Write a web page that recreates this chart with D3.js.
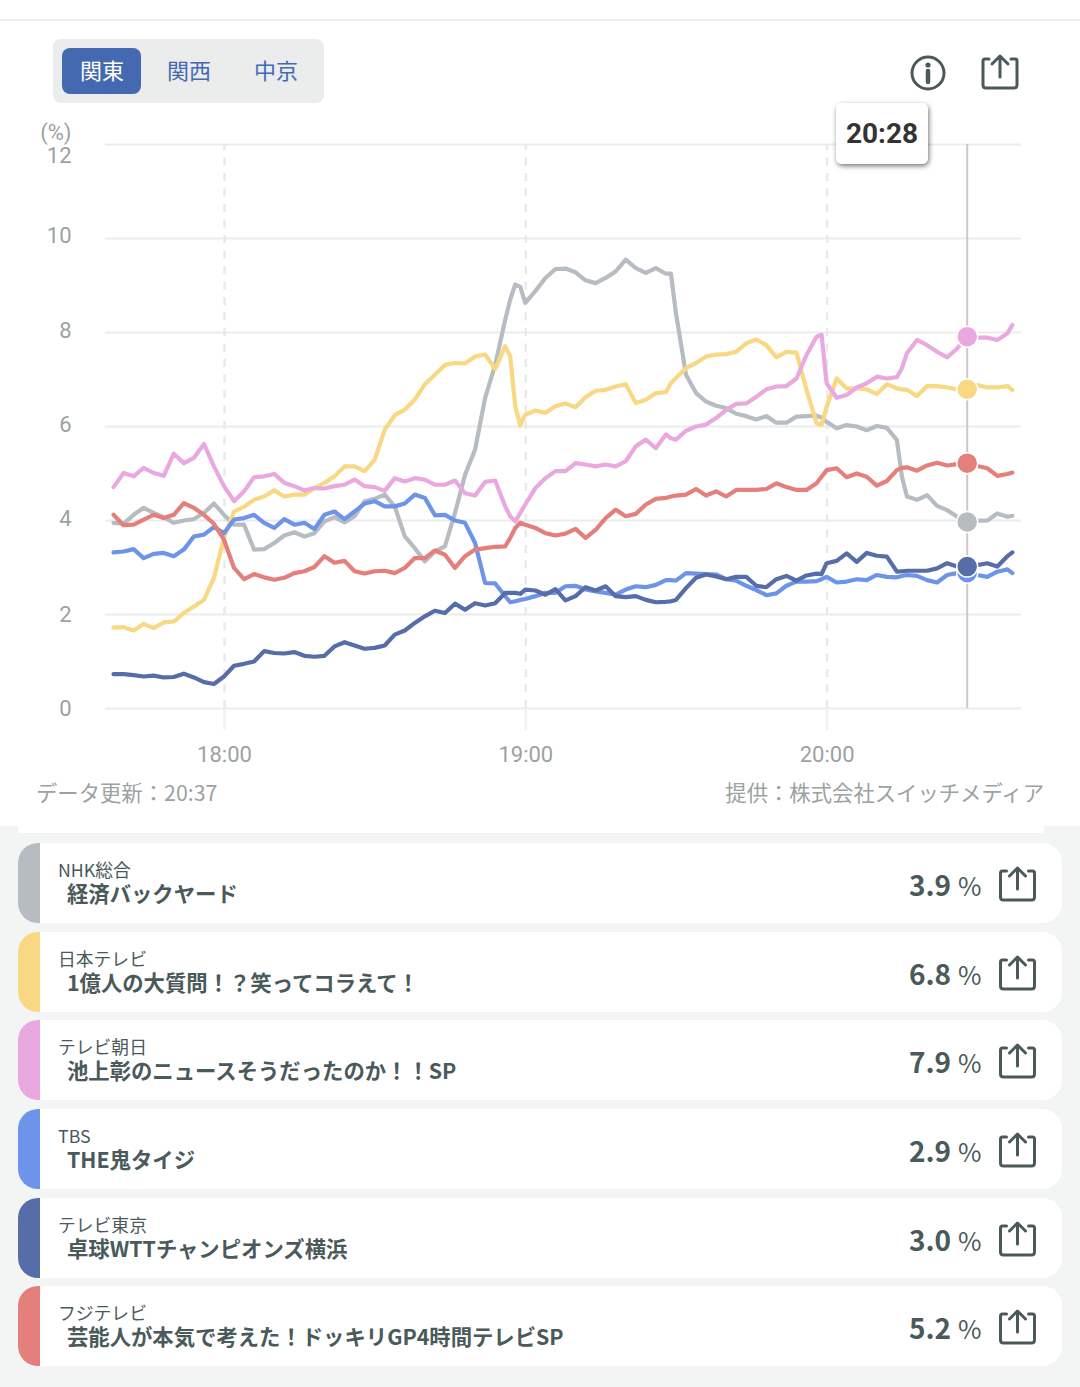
<!DOCTYPE html>
<html lang="ja">
<head>
<meta charset="utf-8">
<style>
  html, body { margin: 0; padding: 0; background: #fff; }
  svg { display: block; }
  text { font-family: "Noto Sans CJK JP", "Noto Sans", sans-serif; }
  .num { font-family: Roboto, sans-serif; }
</style>
<script src="https://cdnjs.cloudflare.com/ajax/libs/d3/7.8.5/d3.min.js"></script>
</head>
<body>
<svg id="chart" width="1080" height="1387"></svg>
<script>
// sample times: minutes since midnight, every 2 min from 17:38, last one 20:37,
// plus a few odd minutes where the lines drop sharply
const minutes = d3.range(1058, 1238, 2).concat([1237, 1137, 1139, 1169, 1199, 1215]).sort(d3.ascending);

const nhk = [3.94,3.92,4.11,4.26,4.15,4.06,3.94,3.99,4.02,4.15,4.35,4.11,3.90,3.90,3.37,3.38,3.51,3.67,3.74,3.65,3.72,3.97,4.06,3.95,4.08,4.40,4.45,4.54,4.29,3.65,3.40,
  3.12,3.33,3.44,4.15,4.96,5.50,6.60,7.30,8.26,8.69,9.01,8.96,8.62,8.87,9.15,9.34,9.35,9.27,9.10,9.04,9.15,9.29,9.54,9.36,9.26,9.36,9.24,9.24,8.40,7.09,6.70,6.52,6.43,
  6.38,6.26,6.21,6.14,6.21,6.07,6.07,6.20,6.21,6.22,6.18,6.09,5.95,6.02,5.99,5.91,6.00,5.96,5.70,4.92,4.50,4.43,4.53,4.30,4.21,4.07,3.96,3.98,3.99,4.14,4.07,4.09];
const ntv = [1.71,1.72,1.65,1.79,1.70,1.82,1.84,2.02,2.16,2.30,2.77,3.62,4.18,4.28,4.43,4.50,4.63,4.50,4.54,4.54,4.68,4.79,4.93,5.14,5.14,5.04,5.28,5.92,6.23,6.35,6.56,
  6.89,7.09,7.30,7.34,7.33,7.48,7.52,7.21,7.70,7.48,6.42,6.01,6.24,6.33,6.28,6.42,6.48,6.40,6.61,6.75,6.77,6.84,6.89,6.49,6.56,6.70,6.72,6.91,7.02,7.23,7.34,7.48,7.52,
  7.53,7.58,7.76,7.84,7.72,7.46,7.58,7.56,6.77,6.06,6.02,6.41,7.01,6.80,6.80,6.78,6.68,6.89,6.80,6.78,6.77,6.64,6.85,6.85,6.82,6.78,6.78,6.87,6.82,6.82,6.85,6.77];
const asahi = [4.70,5.00,4.93,5.11,5.00,4.94,5.41,5.21,5.32,5.62,5.14,4.72,4.40,4.61,4.91,4.93,4.98,4.79,4.72,4.63,4.68,4.67,4.72,4.75,4.86,4.72,4.70,4.62,4.89,4.82,4.89,
  4.86,4.75,4.75,4.84,4.57,4.52,4.81,4.84,4.29,4.08,3.97,4.15,4.33,4.68,4.89,5.04,5.04,5.21,5.18,5.14,5.18,5.14,5.25,5.57,5.71,5.53,5.82,5.74,5.71,5.90,5.99,6.03,6.17,
  6.34,6.47,6.48,6.62,6.78,6.84,6.85,7.01,7.51,7.90,7.94,6.91,6.60,6.66,6.82,6.91,7.05,7.01,7.04,7.23,7.55,7.83,7.72,7.58,7.46,7.65,7.90,7.88,7.88,7.83,7.97,8.15];
const tbs = [3.31,3.33,3.38,3.19,3.28,3.30,3.23,3.37,3.65,3.69,3.85,3.72,4.01,4.04,4.11,3.94,3.83,4.02,3.90,3.94,3.81,4.11,4.18,4.02,4.18,4.35,4.40,4.29,4.29,4.35,4.54,
  4.47,4.10,4.11,3.99,3.94,3.51,2.66,2.65,2.38,2.25,2.27,2.30,2.32,2.38,2.45,2.45,2.59,2.60,2.52,2.48,2.45,2.41,2.52,2.59,2.57,2.62,2.72,2.72,2.71,2.87,2.86,2.85,2.84,
  2.74,2.71,2.60,2.51,2.40,2.44,2.60,2.69,2.69,2.70,2.74,2.79,2.67,2.69,2.74,2.72,2.83,2.79,2.78,2.81,2.83,2.81,2.72,2.67,2.83,2.87,2.88,2.83,2.79,2.90,2.95,2.87];
const tokyo = [0.72,0.72,0.70,0.67,0.69,0.65,0.66,0.73,0.65,0.55,0.51,0.67,0.90,0.94,0.99,1.21,1.17,1.16,1.19,1.11,1.09,1.11,1.31,1.40,1.33,1.26,1.28,1.33,1.56,1.65,1.81,
  1.95,2.07,2.02,2.22,2.09,2.23,2.18,2.23,2.45,2.45,2.45,2.43,2.52,2.50,2.41,2.53,2.29,2.38,2.57,2.50,2.59,2.38,2.36,2.38,2.30,2.25,2.26,2.27,2.30,2.55,2.77,2.84,2.80,
  2.74,2.79,2.79,2.60,2.57,2.74,2.81,2.71,2.82,2.86,2.85,3.08,3.13,3.29,3.11,3.30,3.24,3.22,2.90,2.91,2.92,2.92,2.92,2.97,3.08,3.01,3.01,3.04,3.08,3.01,3.23,3.31];
const fuji = [4.11,3.89,3.90,4.01,4.11,4.04,4.11,4.36,4.26,4.11,3.92,3.58,2.98,2.74,2.85,2.78,2.73,2.77,2.87,2.91,3.00,3.23,3.09,3.13,2.91,2.86,2.91,2.92,2.87,2.98,3.19,
  3.19,3.35,3.26,2.98,3.23,3.37,3.40,3.43,3.44,3.62,3.83,3.94,3.90,3.83,3.72,3.67,3.71,3.81,3.62,3.79,4.04,4.22,4.08,4.13,4.33,4.45,4.47,4.50,4.52,4.54,4.66,4.52,4.61,
  4.50,4.64,4.64,4.64,4.66,4.78,4.70,4.64,4.64,4.78,4.92,5.06,5.10,4.91,4.99,4.92,4.73,4.83,5.06,5.11,5.12,5.05,5.16,5.22,5.16,5.19,5.21,5.15,5.10,4.94,4.98,5.01];

const channels = ["NHK総合", "日本テレビ", "テレビ朝日", "TBS", "テレビ東京", "フジテレビ"];
const programs = ["経済バックヤード", "1億人の大質問！？笑ってコラえて！", "池上彰のニュースそうだったのか！！SP", "THE鬼タイジ", "卓球WTTチャンピオンズ横浜", "芸能人が本気で考えた！ドッキリGP4時間テレビSP"];
const ratings = ["3.9", "6.8", "7.9", "2.9", "3.0", "5.2"];
const colors = ["#b7bcc3", "#f8d883", "#e9a8e0", "#6d94e8", "#566da8", "#e47f7c"];
const seriesValues = [nhk, ntv, asahi, tbs, tokyo, fuji];
const regions = ["関東", "関西", "中京"];
const yTicks = [0, 2, 4, 6, 8, 10, 12];
const xTicks = [1080, 1140, 1200];
const cursorMinute = 1228; // 20:28

const inkColor = "#4a5a5b";
const labelColor = "#9ba2a1";
const svg = d3.select("#chart");
const x = d3.scaleLinear().domain([1080, 1200]).range([224, 826.6]);
const y = d3.scaleLinear().domain([0, 12]).range([708, 144]);

// page background below the chart panel
svg.append("rect").attr("width", 1080).attr("height", 1387).attr("fill", "#fff");
svg.append("rect").attr("y", 826).attr("width", 1080).attr("height", 561).attr("fill", "#f3f5f5");
svg.append("rect").attr("x", 18).attr("y", 826).attr("width", 1026).attr("height", 7).attr("fill", "#fff");
svg.append("rect").attr("y", 19).attr("width", 1080).attr("height", 2).attr("fill", "#eeeeee");

// region tabs
svg.append("rect").attr("x", 53).attr("y", 39).attr("width", 271).attr("height", 64).attr("rx", 8).attr("fill", "#ebeded");
svg.append("rect").attr("x", 62).attr("y", 48).attr("width", 79).attr("height", 46).attr("rx", 8).attr("fill", "#4469b0");
svg.selectAll(".tab").data(regions).enter().append("text")
  .attr("class", "tab")
  .attr("x", (d, i) => 102 + i * 87)
  .attr("y", 79)
  .attr("text-anchor", "middle")
  .attr("font-size", 22)
  .attr("fill", (d, i) => i === 0 ? "#fff" : "#4469b0")
  .text(d => d);

// y axis and grid; tick labels sit a little off their lines in the original
const yLabelDy = { 0: 0.32, 2: 0.32, 4: 0.23, 6: 0.27, 8: 0.27, 10: 0.22, 12: 0.82 };
const yAxisGroup = svg.append("g")
  .attr("transform", "translate(105,0)")
  .call(d3.axisLeft(y).tickValues(yTicks).tickSize(-916).tickPadding(33.5));
yAxisGroup.select(".domain").remove();
yAxisGroup.selectAll("line").attr("stroke", "#ebecec").attr("stroke-width", 2.2);
yAxisGroup.selectAll("text")
  .attr("class", "num")
  .attr("font-size", 22)
  .attr("fill", labelColor)
  .attr("dy", d => yLabelDy[d] + "em");
svg.append("text").attr("class", "num").attr("x", 71.5).attr("y", 140)
  .attr("text-anchor", "end").attr("font-size", 22).attr("fill", labelColor).text("(%)");

// x axis with dashed hour lines
const xAxisGroup = svg.append("g")
  .attr("transform", "translate(0,708)")
  .call(d3.axisBottom(x).tickValues(xTicks).tickSize(-564).tickPadding(38)
    .tickFormat(d => `${Math.floor(d / 60)}:${d3.format("02")(d % 60)}`));
xAxisGroup.select(".domain").remove();
xAxisGroup.selectAll("line").attr("stroke", "#e8e9e9").attr("stroke-width", 2.4).attr("stroke-dasharray", "8,7.5");
xAxisGroup.selectAll("text").attr("class", "num").attr("font-size", 22).attr("fill", labelColor);
xAxisGroup.selectAll(".tick").append("line").attr("y2", 22).attr("stroke", "#f0f1f1").attr("stroke-width", 2.4);

// cursor line
svg.append("line").attr("x1", x(cursorMinute)).attr("x2", x(cursorMinute))
  .attr("y1", 144).attr("y2", 708).attr("stroke", "#c9c9c9").attr("stroke-width", 2);

// lines
const line = d3.line().x((d, i) => x(minutes[i])).y(d => y(d));
svg.selectAll(".series").data(seriesValues).enter().append("path")
  .attr("class", "series")
  .attr("fill", "none")
  .attr("stroke", (d, i) => colors[i])
  .attr("stroke-width", 4.2)
  .attr("stroke-linejoin", "round")
  .attr("stroke-linecap", "round")
  .attr("d", line);

// cursor dots
const cursorIndex = minutes.indexOf(cursorMinute);
svg.selectAll(".dot").data(seriesValues).enter().append("circle")
  .attr("class", "dot")
  .attr("cx", x(cursorMinute))
  .attr("cy", d => y(d[cursorIndex]))
  .attr("r", 10.5)
  .attr("fill", (d, i) => colors[i])
  .attr("stroke", "#fff")
  .attr("stroke-width", 1.5);

// tooltip
const defs = svg.append("defs");
defs.append("filter").attr("id", "shadow").attr("x", "-20%").attr("y", "-20%").attr("width", "140%").attr("height", "150%")
  .append("feDropShadow").attr("dx", 1).attr("dy", 2).attr("stdDeviation", 2.5).attr("flood-color", "#000").attr("flood-opacity", 0.55);
svg.append("rect").attr("x", 836).attr("y", 103).attr("width", 92).attr("height", 61).attr("rx", 6)
  .attr("fill", "#fff").attr("filter", "url(#shadow)");
svg.append("text").attr("class", "num").attr("x", 882).attr("y", 143).attr("text-anchor", "middle")
  .attr("font-size", 28).attr("font-weight", 700).attr("fill", "#333").text("20:28");

// header info icon
const info = svg.append("g").attr("transform", "translate(928,73)");
info.append("circle").attr("r", 16).attr("fill", "none").attr("stroke", inkColor).attr("stroke-width", 3);
info.append("circle").attr("cy", -8).attr("r", 2.6).attr("fill", inkColor);
info.append("line").attr("y1", -2).attr("y2", 9).attr("stroke", inkColor).attr("stroke-width", 4.5).attr("stroke-linecap", "round");

function shareIcon(g) {
  g.append("path")
    .attr("d", "M-11,-14 H-15 Q-17,-14 -17,-12 V12 Q-17,15 -14,15 H14 Q17,15 17,12 V-12 Q17,-14 15,-14 H11")
    .attr("fill", "none").attr("stroke", inkColor).attr("stroke-width", 3).attr("stroke-linecap", "round");
  g.append("path")
    .attr("d", "M0,4 V-17 M-8,-9 L0,-17 L8,-9")
    .attr("fill", "none").attr("stroke", inkColor).attr("stroke-width", 3).attr("stroke-linecap", "round").attr("stroke-linejoin", "round");
}
svg.append("g").attr("transform", "translate(1000,73)").call(shareIcon);

// footer
svg.append("text").attr("x", 36).attr("y", 801).attr("font-size", 21.35).attr("fill", labelColor).text("データ更新：20:37");
svg.append("text").attr("x", 1044).attr("y", 801).attr("text-anchor", "end").attr("font-size", 21.35).attr("fill", labelColor).text("提供：株式会社スイッチメディア");

// program cards
const cardTops = [843, 932, 1020, 1109, 1198, 1286];
const cards = svg.selectAll(".card").data(channels).enter().append("g")
  .attr("class", "card")
  .attr("transform", (d, i) => `translate(0,${cardTops[i]})`);
cards.append("rect").attr("x", 18).attr("width", 1044).attr("height", 80).attr("rx", 20).attr("fill", "#fff");
cards.append("path")
  .attr("d", "M40,0 H38 A20,20 0 0 0 18,20 V60 A20,20 0 0 0 38,80 H40 Z")
  .attr("fill", (d, i) => colors[i]);
cards.append("text").attr("x", 58).attr("y", 34).attr("font-size", 17.8).attr("fill", inkColor).text(d => d);
cards.append("text").attr("x", 67).attr("y", 58.5).attr("font-size", 21.35).attr("font-weight", 700).attr("fill", inkColor)
  .text((d, i) => programs[i]);
cards.append("text").attr("x", 909).attr("y", 52.5).attr("font-size", 28).attr("font-weight", 700).attr("fill", inkColor)
  .text((d, i) => ratings[i]);
cards.append("text").attr("x", 958).attr("y", 52.5).attr("font-size", 25.5).attr("fill", inkColor).text("%");
cards.append("g").attr("transform", "translate(1017.5,42)").each(function () { d3.select(this).call(shareIcon); });
</script>
</body>
</html>
